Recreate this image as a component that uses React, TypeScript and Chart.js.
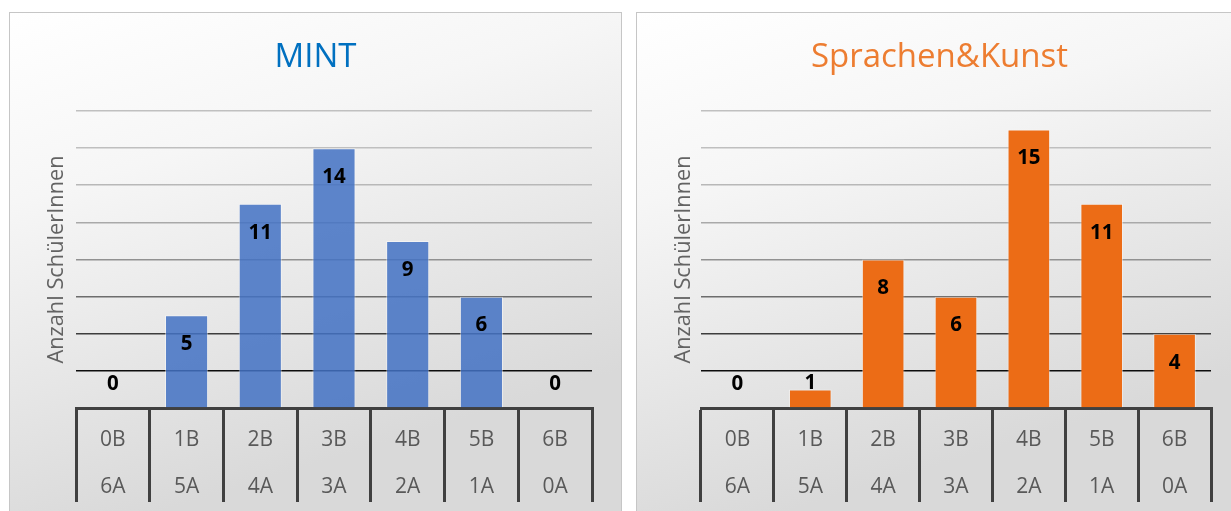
import React, { useEffect, useRef } from 'react';
import { Chart, registerables } from 'chart.js';

Chart.register(...registerables);

// ---- data ----
const CLASSES_B = ['0B', '1B', '2B', '3B', '4B', '5B', '6B'];
const CLASSES_A = ['6A', '5A', '4A', '3A', '2A', '1A', '0A'];
const MINT_VALUES = [0, 5, 11, 14, 9, 6, 0];
const SPRACHEN_VALUES = [0, 1, 8, 6, 15, 11, 4];
const MINT_TITLE = 'MINT';
const SPRACHEN_TITLE = 'Sprachen&Kunst';
const Y_TITLE = 'Anzahl SchülerInnen';
const Y_MIN = 0;
const Y_MAX = 16;
const Y_STEP = 2;

const FONT = "'Open Sans', 'Noto Sans', sans-serif";

function gridColor(v: number): string {
  if (v <= Y_STEP) return '#0d0d0d';
  const t = 1 - (v - Y_STEP) / (Y_MAX - Y_STEP);
  const g = Math.round(192 - 192 * Math.pow(t, 2.5));
  return `rgb(${g},${g},${g})`;
}

type PanelProps = {
  title: string;
  titleColor: string;
  values: number[];
  barColor: string;
  left: number;
  width: number;
  chartLeft: number;
  chartRight: number;
};

function Panel({ title, titleColor, values, barColor, left, width, chartLeft, chartRight }: PanelProps) {
  const ref = useRef<HTMLCanvasElement | null>(null);
  const canvasW = width - 2;
  const canvasH = 498;

  useEffect(() => {
    if (!ref.current) return;
    const bgPlugin = {
      id: 'bgTitle',
      beforeDraw(chart: any) {
        const { ctx, width: w, height: h } = chart;
        ctx.save();
        const g = ctx.createLinearGradient(0, 0, w * 0.25, h);
        g.addColorStop(0, '#ffffff');
        g.addColorStop(0.35, '#f6f6f6');
        g.addColorStop(1, '#d9d9d9');
        ctx.fillStyle = g;
        ctx.fillRect(0, 0, w, h);
        ctx.fillStyle = titleColor;
        ctx.font = `400 33px ${FONT}`;
        ctx.textAlign = 'center';
        ctx.textBaseline = 'alphabetic';
        ctx.fillText(title, w / 2, 54);
        ctx.restore();
      },
    };
    const labelPlugin = {
      id: 'barLabels',
      afterDatasetsDraw(chart: any) {
        const { ctx } = chart;
        const meta = chart.getDatasetMeta(0);
        ctx.save();
        ctx.fillStyle = '#000000';
        ctx.font = `700 20.5px ${FONT}`;
        ctx.textAlign = 'center';
        ctx.textBaseline = 'middle';
        meta.data.forEach((bar: any, i: number) => {
          const p = bar.getProps(['x', 'y', 'base'], true);
          const ty = Math.min(p.y + 29, p.base - 24);
          ctx.fillText(String(values[i]), p.x, ty);
        });
        ctx.restore();
      },
    };

    const chart = new Chart(ref.current, {
      type: 'bar',
      data: {
        labels: CLASSES_B.map((b, i) => [b, CLASSES_A[i]]),
        datasets: [
          {
            data: values,
            backgroundColor: barColor,
            borderColor: 'rgba(255,255,255,0.45)',
            borderWidth: 1,
            barPercentage: 0.585,
            categoryPercentage: 1,
          },
        ],
      },
      options: {
        animation: false,
        responsive: false,
        maintainAspectRatio: false,
        layout: { padding: { top: 98, left: 0, right: canvasW - chartRight, bottom: 0 } },
        plugins: { legend: { display: false }, title: { display: false }, tooltip: { enabled: false } },
        scales: {
          x: {
            offset: true,
            grid: {
              offset: true,
              drawOnChartArea: false,
              drawTicks: true,
              tickLength: 94,
              color: '#404040',
              lineWidth: 3,
            },
            border: { display: true, color: '#404040', width: 3 },
            ticks: {
              color: '#595959',
              font: { family: FONT, size: 21, lineHeight: 47 / 21 },
              padding: -85.5,
              maxRotation: 0,
              autoSkip: false,
            },
            afterFit: (s: any) => {
              s.height = canvasH - 98 - 297;
            },
          },
          y: {
            min: Y_MIN,
            max: Y_MAX,
            ticks: { display: false, stepSize: Y_STEP },
            grid: {
              drawTicks: false,
              color: (c: any) => gridColor(c.tick ? c.tick.value : 0),
              lineWidth: 1.6,
            },
            border: { display: false },
            title: {
              display: true,
              text: Y_TITLE,
              color: '#636363',
              font: { family: FONT, size: 21.8, weight: 400 },
              padding: { top: 34, bottom: 0 },
            },
            afterFit: (s: any) => {
              s.width = chartLeft;
            },
          },
        },
      },
      plugins: [bgPlugin, labelPlugin],
    } as any);
    return () => chart.destroy();
  }, []);

  return (
    <div
      style={{
        position: 'absolute',
        left,
        top: 12,
        width,
        height: 499,
        boxSizing: 'border-box',
        borderTop: '1px solid #c6c6c6',
        borderLeft: '1px solid #c6c6c6',
        borderRight: '1px solid #c6c6c6',
        overflow: 'hidden',
      }}
    >
      <canvas ref={ref} width={canvasW} height={canvasH} style={{ display: 'block', width: canvasW, height: canvasH }} />
    </div>
  );
}

export default function App() {
  return (
    <div style={{ position: 'fixed', left: 0, top: 0, width: 1231, height: 511, overflow: 'hidden', background: '#ffffff' }}>
      <Panel
        title={MINT_TITLE}
        titleColor="#0070c0"
        values={MINT_VALUES}
        barColor="rgba(68,114,196,0.86)"
        left={9}
        width={613}
        chartLeft={66}
        chartRight={582}
      />
      <Panel
        title={SPRACHEN_TITLE}
        titleColor="#ed7d31"
        values={SPRACHEN_VALUES}
        barColor="#ec6c16"
        left={636}
        width={607}
        chartLeft={64}
        chartRight={574}
      />
    </div>
  );
}
